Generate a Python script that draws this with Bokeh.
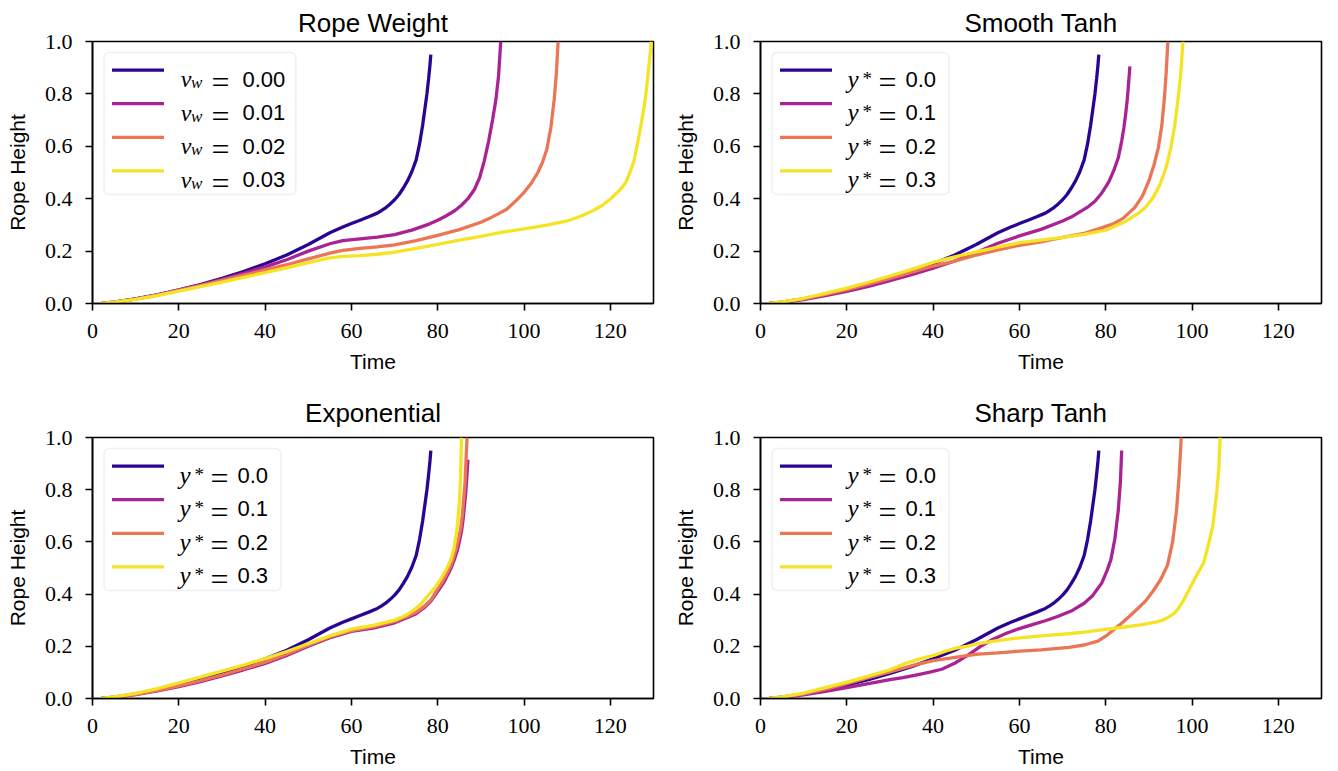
from bokeh.plotting import figure
from bokeh.layouts import column, row
from bokeh.models import Range1d, FixedTicker, NumeralTickFormatter, BoxAnnotation
from bokeh.core.properties import value
from bokeh.embed import file_html
from bokeh.resources import INLINE

# ---------------- data ----------------
COLORS = ["#2a0593", "#aa2395", "#eb7655", "#f5e426"]

X_TICKS = [0, 20, 40, 60, 80, 100, 120]
Y_TICKS = [0.0, 0.2, 0.4, 0.6, 0.8, 1.0]

TITLES = ["Rope Weight", "Smooth Tanh", "Exponential", "Sharp Tanh"]
VW_LABELS = ["0.00", "0.01", "0.02", "0.03"]
YSTAR_LABELS = ["0.0", "0.1", "0.2", "0.3"]

# baseline run (v_w = 0.00, y* = 0.0), identical in all four panels
base_t = [2, 5, 10, 15, 20, 25, 30, 35, 40, 45, 50, 55, 58, 60, 62, 64, 66, 67, 68, 69, 70, 71, 72, 73, 74, 75,
          75.8, 76.5, 77, 77.5, 77.9, 78.2, 78.4]
base_h = [0, 0.005, 0.018, 0.033, 0.052, 0.072, 0.096, 0.122, 0.152, 0.185, 0.225, 0.27, 0.292, 0.305, 0.318,
          0.331, 0.345, 0.355, 0.366, 0.38, 0.396, 0.415, 0.44, 0.468, 0.503, 0.548, 0.61, 0.68, 0.74, 0.8,
          0.86, 0.91, 0.95]

# Rope Weight
rw1_t = [2, 5, 10, 15, 20, 25, 30, 35, 40, 45, 50, 55, 58, 62, 66, 70, 74, 78, 80, 82, 84, 85.5, 87, 88.5,
         89.7, 90.8, 91.8, 92.7, 93.5, 94.1, 94.6]
rw1_h = [0, 0.005, 0.018, 0.033, 0.051, 0.07, 0.092, 0.115, 0.14, 0.167, 0.2, 0.228, 0.24, 0.247, 0.253, 0.263,
         0.28, 0.303, 0.318, 0.335, 0.355, 0.375, 0.40, 0.435, 0.48, 0.545, 0.62, 0.70, 0.78, 0.87, 1.0]
rw2_t = [2, 5, 10, 15, 20, 25, 30, 35, 40, 45, 50, 55, 58, 62, 66, 70, 75, 80, 85, 90, 92, 94, 96, 98, 99.8,
         101.5, 103.2, 104.3, 105.3, 106.2, 107, 107.5, 107.9]
rw2_h = [0, 0.005, 0.017, 0.032, 0.05, 0.068, 0.088, 0.108, 0.128, 0.148, 0.17, 0.192, 0.203, 0.21, 0.216, 0.224,
         0.24, 0.26, 0.282, 0.31, 0.325, 0.342, 0.36, 0.39, 0.42, 0.455, 0.5, 0.54, 0.59, 0.67, 0.78, 0.88, 1.0]
rw3_t = [2, 5, 10, 15, 20, 25, 30, 35, 40, 45, 50, 55, 58, 62, 66, 70, 75, 80, 85, 90, 95, 100, 105, 110,
         113.3, 116, 118, 120.1, 122, 123.5, 124.3, 125.5, 126.4, 127.2, 128.1, 128.7, 129.2, 129.5]
rw3_h = [0, 0.005, 0.016, 0.03, 0.047, 0.064, 0.082, 0.1, 0.118, 0.136, 0.156, 0.174, 0.18, 0.183, 0.188, 0.196,
         0.21, 0.226, 0.242, 0.256, 0.272, 0.285, 0.298, 0.315, 0.334, 0.355, 0.373, 0.40, 0.43, 0.46, 0.49,
         0.545, 0.62, 0.69, 0.78, 0.87, 0.95, 1.0]

# Smooth Tanh
st1_t = [2, 5, 10, 15, 20, 25, 30, 35, 40, 45, 50, 55, 60, 65, 70, 72, 74, 76, 77.5, 79, 80, 80.8, 81.8, 82.9,
         83.7, 84.2, 84.6, 85, 85.3, 85.6]
st1_h = [0, 0.004, 0.015, 0.03, 0.046, 0.065, 0.087, 0.11, 0.135, 0.162, 0.195, 0.23, 0.258, 0.283, 0.315, 0.33,
         0.35, 0.37, 0.39, 0.42, 0.445, 0.467, 0.505, 0.556, 0.62, 0.67, 0.72, 0.78, 0.84, 0.905]
st2_t = [2, 5, 10, 15, 20, 25, 30, 35, 40, 45, 50, 55, 60, 65, 70, 75, 78, 81.6, 84, 86.7, 88.5, 90, 91.2,
         92.2, 93, 93.6, 94, 94.4]
st2_h = [0, 0.005, 0.018, 0.035, 0.053, 0.074, 0.096, 0.12, 0.143, 0.162, 0.185, 0.205, 0.222, 0.235, 0.252,
         0.268, 0.283, 0.303, 0.325, 0.366, 0.41, 0.468, 0.53, 0.595, 0.68, 0.786, 0.88, 1.0]
st3_t = [2, 5, 10, 15, 20, 25, 30, 35, 40, 45, 50, 55, 60, 65, 70, 75, 80, 84.1, 87, 89.2, 91, 92.6, 94, 95.1,
         96, 96.8, 97.4, 97.9]
st3_h = [0, 0.006, 0.02, 0.039, 0.059, 0.081, 0.105, 0.13, 0.157, 0.178, 0.197, 0.215, 0.232, 0.242, 0.252,
         0.264, 0.28, 0.309, 0.338, 0.366, 0.405, 0.455, 0.52, 0.595, 0.68, 0.786, 0.88, 1.0]

# Exponential
ex1_t = [2, 5, 10, 15, 20, 25, 30, 35, 40, 45, 50, 55, 60, 65, 70, 73, 75, 77, 78.5, 80.4, 81.4, 82.2, 83.1,
         83.8, 84.5, 85, 85.5, 85.9, 86.5, 87]
ex1_h = [0, 0.004, 0.015, 0.029, 0.045, 0.065, 0.087, 0.11, 0.134, 0.165, 0.2, 0.233, 0.257, 0.27, 0.29, 0.31,
         0.325, 0.35, 0.375, 0.42, 0.445, 0.47, 0.5, 0.53, 0.565, 0.6, 0.64, 0.69, 0.79, 0.915]
ex2_t = [2, 5, 10, 15, 20, 25, 30, 35, 40, 45, 50, 55, 60, 65, 70, 73, 75, 77, 78.5, 80.2, 81.2, 82, 82.9,
         83.6, 84.3, 84.8, 85.3, 85.7, 86.3, 86.8]
ex2_h = [0, 0.005, 0.016, 0.031, 0.048, 0.068, 0.09, 0.114, 0.139, 0.17, 0.204, 0.237, 0.26, 0.274, 0.295,
         0.315, 0.33, 0.355, 0.38, 0.425, 0.45, 0.475, 0.505, 0.535, 0.575, 0.61, 0.65, 0.7, 0.82, 1.0]
ex3_t = [2, 5, 10, 15, 20, 25, 30, 35, 40, 45, 50, 55, 60, 65, 70, 72.5, 74.5, 76, 77.5, 79.6, 80.6, 81.5,
         82.3, 83, 83.7, 84.2, 84.6, 85, 85.3, 85.5]
ex3_h = [0, 0.006, 0.02, 0.038, 0.06, 0.082, 0.105, 0.128, 0.153, 0.18, 0.21, 0.24, 0.266, 0.28, 0.3, 0.318,
         0.34, 0.36, 0.39, 0.43, 0.455, 0.48, 0.505, 0.53, 0.57, 0.62, 0.67, 0.75, 0.85, 1.0]

# Sharp Tanh
sh1_t = [2, 5, 10, 15, 20, 25, 30, 33, 36, 39, 42, 45, 48, 51, 54, 57, 60, 63, 66, 69, 72, 75, 77, 79.1, 80.3,
         81.2, 82.1, 82.9, 83.4, 83.7]
sh1_h = [0, 0.004, 0.014, 0.027, 0.042, 0.057, 0.072, 0.08, 0.09, 0.1, 0.112, 0.135, 0.165, 0.2, 0.228, 0.25,
         0.268, 0.283, 0.298, 0.315, 0.335, 0.365, 0.395, 0.443, 0.49, 0.532, 0.61, 0.72, 0.83, 0.95]
sh2_t = [2, 5, 10, 15, 20, 25, 30, 36, 40, 43.6, 47, 50.4, 55, 58.8, 65, 71.5, 75, 78.2, 80.5, 83.3, 85.5,
         87.5, 89.3, 90.9, 92.7, 94.3, 95.5, 96.4, 97, 97.5]
sh2_h = [0, 0.005, 0.018, 0.036, 0.057, 0.08, 0.102, 0.13, 0.145, 0.154, 0.162, 0.17, 0.175, 0.18, 0.186,
         0.196, 0.205, 0.22, 0.245, 0.283, 0.315, 0.346, 0.375, 0.41, 0.455, 0.51, 0.6, 0.72, 0.85, 1.0]
sh3_t = [2, 5, 10, 15, 20, 25, 30, 33.5, 37, 40.3, 43, 45.3, 48, 50.4, 55, 58.8, 63, 67.3, 72, 76, 80, 84,
         88.4, 91.5, 93.2, 94.3, 95.8, 96.8, 98, 99.4, 101, 102.7, 103.8, 104.8, 105.7, 106.2, 106.5]
sh3_h = [0, 0.006, 0.021, 0.042, 0.063, 0.086, 0.11, 0.134, 0.152, 0.166, 0.182, 0.193, 0.201, 0.21, 0.222,
         0.23, 0.237, 0.243, 0.249, 0.256, 0.265, 0.273, 0.283, 0.293, 0.3, 0.31, 0.325, 0.344, 0.375, 0.42,
         0.47, 0.52, 0.59, 0.66, 0.786, 0.88, 1.0]

PANELS = [
    [(base_t, base_h), (rw1_t, rw1_h), (rw2_t, rw2_h), (rw3_t, rw3_h)],
    [(base_t, base_h), (st1_t, st1_h), (st2_t, st2_h), (st3_t, st3_h)],
    [(base_t, base_h), (ex1_t, ex1_h), (ex2_t, ex2_h), (ex3_t, ex3_h)],
    [(base_t, base_h), (sh1_t, sh1_h), (sh2_t, sh2_h), (sh3_t, sh3_h)],
]

# ---------------- styling / layout ----------------
X0, X1 = 0, 130
Y0, Y1 = 0.0, 1.0
FRAME_W = 561
SERIF = "Liberation Serif"
SANS = "Liberation Sans"


def make_fig(title, width, height, left, right, top, bottom, title_standoff):
    p = figure(width=width, height=height, output_backend="svg", toolbar_location=None,
               x_range=Range1d(X0, X1), y_range=Range1d(Y0, Y1), tools="",
               min_border_left=left, min_border_right=right,
               min_border_top=top, min_border_bottom=bottom)
    p.title.text = title
    p.title.align = "center"
    p.title.text_font = SANS
    p.title.text_font_size = "26px"
    p.title.text_font_style = "normal"
    p.title.text_color = "black"
    p.title.standoff = title_standoff
    p.background_fill_color = "white"
    p.border_fill_color = "white"
    p.outline_line_color = "black"
    p.outline_line_width = 1.6
    p.outline_line_alpha = 1.0
    p.grid.visible = False
    p.xaxis.ticker = FixedTicker(ticks=X_TICKS)
    p.yaxis.ticker = FixedTicker(ticks=Y_TICKS)
    p.yaxis.formatter = NumeralTickFormatter(format="0.0")
    p.xaxis.axis_label = "Time"
    p.yaxis.axis_label = "Rope Height"
    for ax in (p.xaxis, p.yaxis):
        ax.axis_line_color = "black"
        ax.axis_line_width = 1.6
        ax.major_tick_line_color = "black"
        ax.major_tick_line_width = 1.6
        ax.major_tick_out = 7
        ax.major_tick_in = 0
        ax.minor_tick_line_color = None
        ax.major_label_text_font = SERIF
        ax.major_label_text_font_size = "22px"
        ax.major_label_text_color = "black"
        ax.axis_label_text_font = SANS
        ax.axis_label_text_font_size = "21px"
        ax.axis_label_text_font_style = "normal"
        ax.axis_label_text_color = "black"
    p.xaxis.major_label_standoff = 13
    p.xaxis.axis_label_standoff = 9
    p.yaxis.major_label_standoff = 13
    p.yaxis.axis_label_standoff = 13
    return p


def add_legend(p, frame_h, kind, labels, box_right_px):
    def xs(px):
        return X0 + (X1 - X0) * px / FRAME_W

    def ys(py):
        return Y1 - (Y1 - Y0) * py / frame_h

    box = BoxAnnotation(left=xs(11.6), right=xs(box_right_px), top=ys(11), bottom=ys(153),
                        fill_color="white", fill_alpha=0.8, line_color="#cccccc", line_width=1.5,
                        border_radius=5)
    p.add_layout(box)
    rows = [28.6 + 33.6 * i for i in range(4)]
    for i, c in enumerate(COLORS):
        yr = ys(rows[i])
        p.line([xs(19.5), xs(71.5)], [yr, yr], line_color=c, line_width=3.3, level="overlay")
    base = [ys(r + 9) for r in rows]
    if kind == "vw":
        p.text(x=[xs(88.3)] * 4, y=base, text=["v"] * 4, text_font=value(SERIF), text_font_style="italic",
               text_font_size="24px", text_baseline="alphabetic", text_color="black", level="overlay")
        p.text(x=[xs(98.5)] * 4, y=[ys(r + 12.5) for r in rows], text=["w"] * 4, text_font=value(SERIF),
               text_font_style="italic", text_font_size="17px", text_baseline="alphabetic",
               text_color="black", level="overlay")
        eq_x, num_x = 119, 150
    else:
        p.text(x=[xs(87)] * 4, y=base, text=["y"] * 4, text_font=value(SERIF), text_font_style="italic",
               text_font_size="25px", text_baseline="alphabetic", text_color="black", level="overlay")
        p.text(x=[xs(102)] * 4, y=[ys(r + 8) for r in rows], text=["*"] * 4,
               text_font=value(SERIF), text_font_size="19px", text_baseline="alphabetic",
               text_color="black", level="overlay")
        eq_x, num_x = 118, 145
    p.text(x=[xs(eq_x)] * 4, y=[ys(r + 12) for r in rows], text=["="] * 4, text_font=value(SERIF),
           text_font_size="32px", text_baseline="alphabetic", text_color="black", level="overlay")
    p.text(x=[xs(num_x)] * 4, y=base, text=labels, text_font=value(SANS),
           text_font_size="22px", text_baseline="alphabetic", text_color="black", level="overlay")


specs = [
    dict(width=669, height=383, left=92, right=16, top=41, bottom=80, title_standoff=8),
    dict(width=657, height=383, left=91, right=5, top=41, bottom=80, title_standoff=8),
    dict(width=669, height=387, left=92, right=16, top=54, bottom=72, title_standoff=20),
    dict(width=657, height=387, left=91, right=5, top=54, bottom=72, title_standoff=20),
]

figs = []
for k in range(4):
    s = specs[k]
    p = make_fig(TITLES[k], **s)
    for (t, h), c in zip(PANELS[k], COLORS):
        p.line(t, h, line_color=c, line_width=3.3)
    frame_h = s["height"] - s["top"] - s["bottom"]
    if k == 0:
        add_legend(p, frame_h, "vw", VW_LABELS, 203.3)
    else:
        add_legend(p, frame_h, "ys", YSTAR_LABELS, 188.3)
    figs.append(p)

layout = column(row(figs[0], figs[1]), row(figs[2], figs[3]))

with open("out.html", "w") as f:
    f.write(file_html(layout, INLINE))
